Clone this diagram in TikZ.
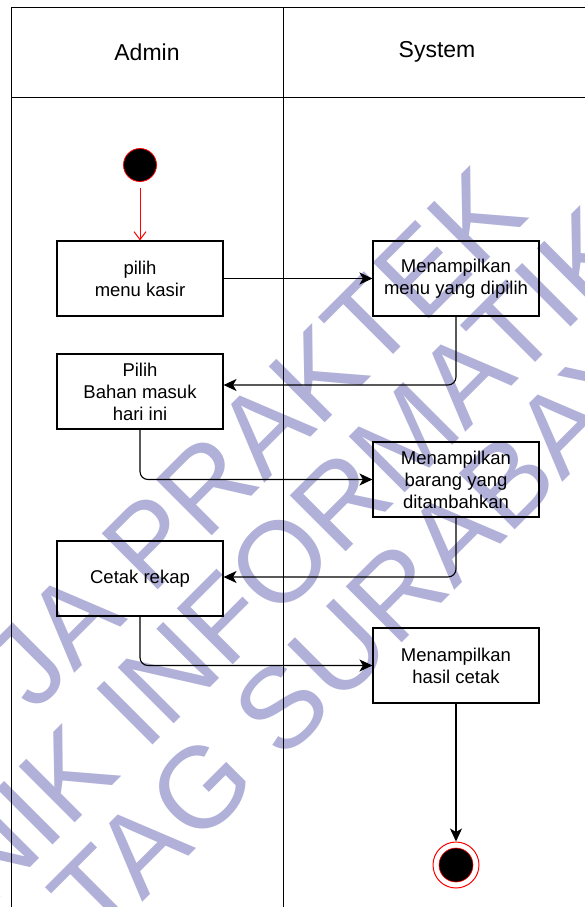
\documentclass[tikz,border=0pt]{standalone}
\usepackage{fontspec}
\setmainfont{Liberation Sans}
\usetikzlibrary{arrows.meta}
\definecolor{wmark}{RGB}{176,176,216}
\definecolor{umlred}{RGB}{255,0,0}
\begin{document}
\begin{tikzpicture}[x=1pt,y=-1pt,
  lane/.style={line width=1pt},
  lanehead/.style={font=\fontsize{23}{27}\selectfont},
  act/.style={draw, line width=1.1pt, minimum width=166pt, minimum height=75pt,
    inner sep=2pt, align=center, font=\fontsize{18.5}{22}\selectfont},
  flow/.style={line width=1.1pt, rounded corners=8pt,
    -{Stealth[length=13pt,width=12pt,inset=3.5pt]}},
  wm/.style={text=wmark, font=\fontsize{115}{115}\selectfont, rotate=45,
    anchor=base west, inner sep=0pt}
]
\useasboundingbox (0,0) rectangle (585,907);
\begin{scope}
\clip (0,0) rectangle (585,907);

% background stamp
\node[wm] (wm1) at (34,714) {JA PRAKTEK};
\node[wm] (wm2) at (-13,911) {NIK INFORMATIKA};
\node[wm] (wm3) at (99,946) {TAG SURABAYA};

% swimlane frame
\draw[lane] (11,907) -- (11,8) -- (591,8);
\draw[lane] (11,97) -- (591,97);
\draw[lane] (283,8) -- (283,907);
\node[lanehead] (hadmin) at (147,52) {Admin};
\node[lanehead] (hsys) at (437,52) {System};

% activities
\node[circle, draw=umlred, fill=black, line width=0.8pt, minimum size=33pt, inner sep=0pt] (start) at (140,165) {};
\node[act] (b1) at (140,278.5) {pilih\\menu kasir};
\node[act] (b2) at (456,278.5) {Menampilkan\\menu yang dipilih};
\node[act] (b3) at (140,391.5) {Pilih\\Bahan masuk\\hari ini};
\node[act] (b4) at (456,479.5) {Menampilkan\\barang yang\\ditambahkan};
\node[act] (b5) at (140,578.5) {Cetak rekap};
\node[act] (b6) at (456,665.5) {Menampilkan\\hasil cetak};
\node[circle, draw=umlred, fill=white, line width=1pt, minimum size=46pt, inner sep=0pt] (end) at (456,865) {};
\node[circle, draw=umlred, fill=black, line width=0.6pt, minimum size=34pt, inner sep=0pt] (endcore) at (end.center) {};

% control flow
\draw[umlred, line width=1pt, shorten <=6pt, -{Straight Barb[length=8pt,width=12pt]}] (start) -- (b1);
\draw[flow] (b1.east) -- (b2.west);
\draw[flow] (b2.south) |- ([yshift=6.5pt]b3.east);
\draw[flow] (b3.south) |- (b4.west);
\draw[flow] (b4.south) |- ([yshift=1.5pt]b5.east);
\draw[flow] (b5.south) |- (b6.west);
\draw[flow] (b6.south) -- (end);
\end{scope}
\end{tikzpicture}
\end{document}
